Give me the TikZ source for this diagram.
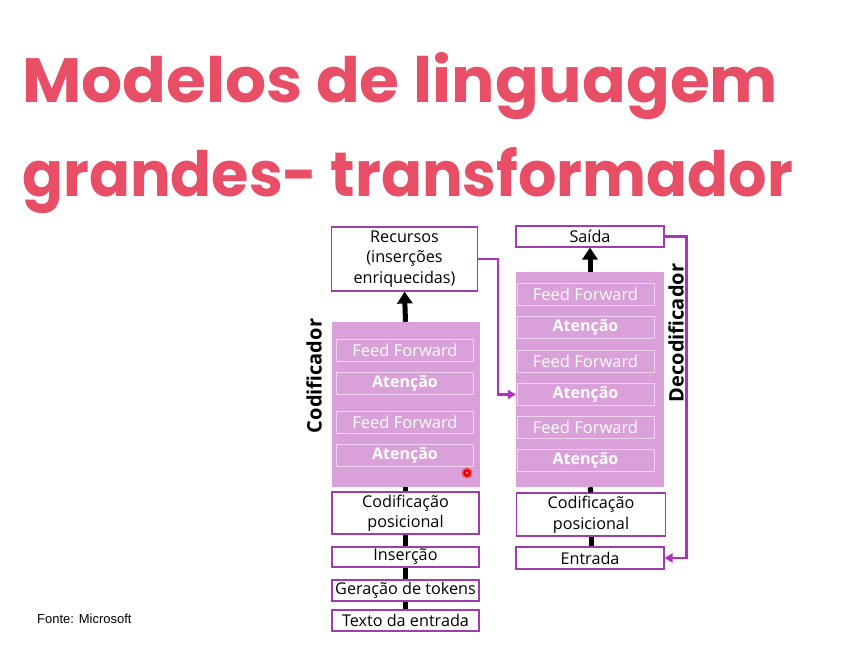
\documentclass[tikz,border=0pt]{standalone}
\usepackage{fontspec}
\setmainfont{Open Sans}
\newfontfamily\titlefont{Poppins}
\newfontfamily\notefont{Liberation Sans}
\usetikzlibrary{arrows.meta}

\definecolor{titlered}{RGB}{232,78,102}
\definecolor{blockplum}{RGB}{217,160,217}
\definecolor{innerline}{RGB}{240,210,240}
\definecolor{boxline}{RGB}{160,60,175}
\definecolor{linkpurple}{RGB}{175,50,190}

\tikzset{
  titletext/.style={anchor=base west, inner sep=0pt, text=titlered,
    font=\titlefont\bfseries\fontsize{62.5}{62.5}\selectfont},
  whitebox/.style={draw=boxline, line width=1.1pt, fill=white, inner sep=0pt,
    align=center, font=\fontsize{16.2}{20.5}\selectfont},
  stackblock/.style={fill=blockplum, draw=none, inner sep=0pt},
  layerbox/.style={draw=innerline, line width=1pt, inner sep=0pt,
    minimum width=137pt, minimum height=22pt, text=white,
    font=\fontsize{16.5}{18}\selectfont},
  ffbox/.style={layerbox},
  attbox/.style={layerbox, font=\bfseries\fontsize{16}{18}\selectfont},
  sidelabel/.style={rotate=90, inner sep=0pt, font=\bfseries\fontsize{20}{22}\selectfont},
  spine/.style={line width=5pt},
  uparrow/.style={line width=5pt, -{Triangle[width=15pt,length=12pt]}},
  link/.style={draw=linkpurple, line width=2.2pt,
    -{Triangle[width=9pt,length=8pt]}},
}

\begin{document}
\begin{tikzpicture}[x=1pt, y=-1pt]
\useasboundingbox[fill=white] (0,0) rectangle (860,655);

% heading, each line stretched to its set width
\node[titletext] (title1) at (22,103) {\resizebox{756pt}{\height}{Modelos de linguagem}};
\node[titletext] (title2) at (22,197) {\resizebox{771pt}{\height}{grandes- transformador}};

% ---------- encoder column ----------
\node[whitebox, minimum width=146pt, minimum height=64pt] (rec) at (404.5,259)
  {Recursos\\(inserções\\enriquecidas)};
\node[stackblock, minimum width=148pt, minimum height=165pt] (encblock) at (405.5,404.5) {};
\node[ffbox]  (eF1) at (405,350.5) {Feed Forward};
\node[attbox] (eA1) at (405,383.5) {Atenção};
\node[ffbox]  (eF2) at (405,422.5) {Feed Forward};
\node[attbox] (eA2) at (405,455.5) {Atenção};
\node[whitebox, minimum width=147pt, minimum height=42pt] (ecod) at (405.5,513)
  {Codificação\\posicional};
\node[whitebox, minimum width=147pt, minimum height=20pt] (eins) at (405.5,557) {Inserção};
\node[whitebox, minimum width=147pt, minimum height=21pt] (eger) at (405.5,590.5) {Geração de tokens};
\node[whitebox, minimum width=147pt, minimum height=21pt] (etxt) at (405.5,620.5) {Texto da entrada};

\draw[spine] (encblock.south) -- (ecod.north);
\draw[spine] (ecod.south) -- (eins.north);
\draw[spine] (eins.south) -- (eger.north);
\draw[spine] (eger.south) -- (etxt.north);
\draw[uparrow] (encblock.north) -- (rec.south);

\node[sidelabel] (enclabel) at (314,376) {Codificador};

% pointer mark
\node[circle, fill=red!85!black, draw=red!75, line width=1.5pt, minimum size=9pt, inner sep=0pt] (dot) at (467,473) {};
\node[circle, fill=red!40!pink, minimum size=3pt, inner sep=0pt] (dotc) at (467,473) {};

% ---------- decoder column ----------
\node[whitebox, minimum width=148pt, minimum height=21pt] (out) at (590,236.5) {Saída};
\node[stackblock, minimum width=148pt, minimum height=215pt] (decblock) at (590,379.5) {};
\node[ffbox]  (dF1) at (585.5,294.5) {Feed Forward};
\node[attbox] (dA1) at (585.5,327.5) {Atenção};
\node[ffbox]  (dF2) at (585.5,361.5) {Feed Forward};
\node[attbox] (dA2) at (585.5,394.5) {Atenção};
\node[ffbox]  (dF3) at (585.5,427) {Feed Forward};
\node[attbox] (dA3) at (585.5,460) {Atenção};
\node[whitebox, minimum width=149pt, minimum height=43pt] (dcod) at (591,514.5)
  {Codificação\\posicional};
\node[whitebox, minimum width=148pt, minimum height=22pt] (dent) at (590,558) {Entrada};

\draw[spine] (decblock.south) -- (dcod.north);
\draw[spine] (dcod.south) -- (dcod.south |- dent.north);
\draw[uparrow] (decblock.north) -- (out.south);

\node[sidelabel] (declabel) at (676,333) {Decodificador};

% ---------- purple links ----------
\draw[link] (rec.east) -- ++(20,0) |- (decblock.west |- dA2.west);
\draw[link] (out.east) -- ++(22,0) |- (dent.east);

% source note
\node[anchor=base west, inner sep=0pt, font=\notefont\fontsize{13}{15}\selectfont] (src) at (37,623) {Fonte: Microsoft};
\end{tikzpicture}
\end{document}
